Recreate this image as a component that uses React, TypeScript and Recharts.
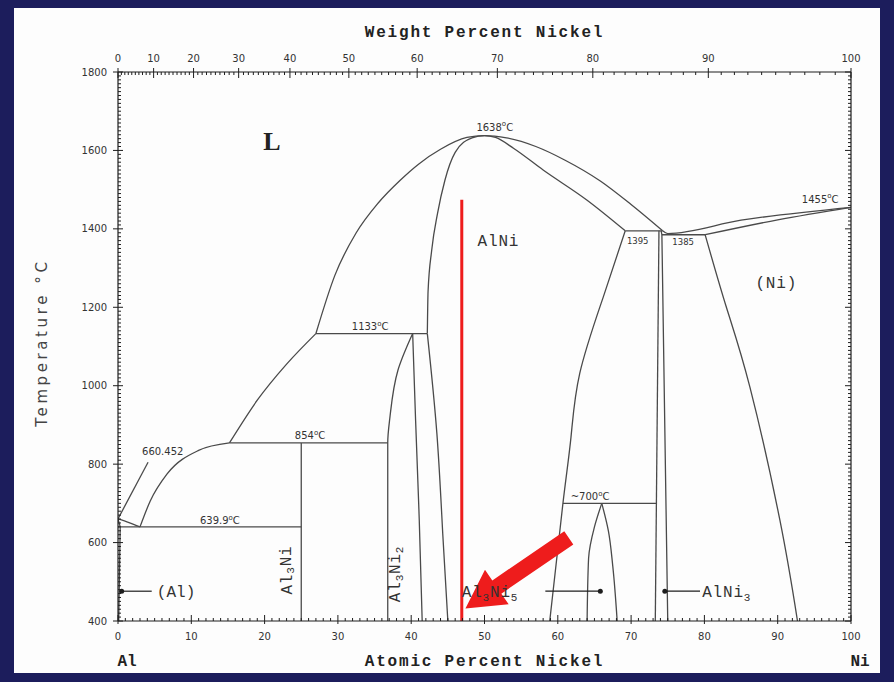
import React from 'react';
import { LineChart, Line, XAxis, YAxis, ReferenceLine, ReferenceDot } from 'recharts';

// Al–Ni binary phase diagram: composition in atomic % Ni, temperature in °C

const NI_MASS = 58.693;
const AL_MASS = 26.982;
const atFromWt = (w: number) => (100 * (w / NI_MASS)) / (w / NI_MASS + (100 - w) / AL_MASS);

// axis ticks
const atomicLabels = [0, 10, 20, 30, 40, 50, 60, 70, 80, 90, 100];
const weightLabels = [0, 10, 20, 30, 40, 50, 60, 70, 80, 90, 100];
const tempLabels = [400, 600, 800, 1000, 1200, 1400, 1600, 1800];
const atomicMinor = Array.from({ length: 101 }, (_, i) => i);
const weightMinor = Array.from({ length: 101 }, (_, i) => i);
const tempMinor = Array.from({ length: 141 }, (_, i) => 400 + i * 10);

// phase boundaries, [at% Ni, °C]
const alLiquidus = [[0, 660.452], [1.5, 651], [3, 639.9]];
const alSolidus = [[0, 660.452], [0.3, 639.9], [0.1, 400]];
const liquidusLow = [[3, 639.9], [4.4, 706], [6.7, 775], [11, 835], [15.2, 854]];
const liquidusMid = [[15.2, 854], [19, 963], [23, 1055], [27, 1133]];
const liquidusHigh = [
  [27, 1133], [29.6, 1282], [32.5, 1390], [35.5, 1466], [38.5, 1524], [41, 1565], [44, 1603],
  [47.6, 1633], [50, 1638], [53, 1632], [57, 1610], [61, 1575], [65.8, 1522], [70, 1462], [74.3, 1395],
];
const alNiSolidus = [
  [42.2, 1133], [42.3, 1240], [42.8, 1346], [43.6, 1440], [44.6, 1524], [46, 1595], [48.3, 1632],
  [50, 1638], [51.5, 1633], [54, 1605], [58, 1550], [64, 1473], [69.2, 1395],
];
const alNiLeft = [[42.2, 1133], [43.5, 879], [44.3, 624], [45, 400]];
const alNiRight = [[69.2, 1395], [66.2, 1226], [63, 1032], [61.8, 869], [60.7, 700], [58.9, 400]];
const al3Ni = [[25, 854], [25, 400]];
const al3Ni2Left = [[40.2, 1133], [38.2, 1040], [37.1, 920], [36.8, 854], [36.8, 400]];
const al3Ni2Right = [[40.2, 1133], [40.6, 912], [41.1, 657], [41.5, 400]];
const al3Ni5Left = [[66, 700], [65, 640], [64.2, 560], [64, 400]];
const al3Ni5Right = [[66, 700], [66.9, 630], [67.5, 540], [68.1, 400]];
const alNi3Left = [[73.8, 1395], [73.3, 400]];
const alNi3Right = [[74.1, 1395], [74.2, 1385], [75, 400]];
const niLiquidus = [[74.3, 1395], [75, 1388], [85, 1422], [100, 1455]];
const niSolidus = [[80.1, 1385], [90, 1423], [100, 1455]];
const niSolvus = [[80.1, 1385], [83, 1200], [86.2, 997], [90.3, 657], [92.7, 400]];

// invariant reactions
const eutectic640 = [[0, 639.9], [25, 639.9]];
const peritectic854 = [[15.2, 854], [36.8, 854]];
const peritectic1133 = [[27, 1133], [42.2, 1133]];
const peritectic1395 = [[69.2, 1395], [74.3, 1395]];
const eutectic1385 = [[74.2, 1385], [80.1, 1385]];
const reaction700 = [[60.7, 700], [73.45, 700]];
const meltLeader = [[0, 660.452], [4.1, 805]];

// phase pointers
const alPointer = [[0.5, 476], [4.6, 476]];
const al3Ni5Pointer = [[58.3, 476], [65.8, 476]];
const alNi3Pointer = [[74.6, 476], [79.4, 476]];

// highlighted composition and arrow
const markedComposition = 46.9;
const markedRange = [400, 1474];
const arrowTail = [61.5, 612];
const arrowTip = [47.4, 432];

const boundaries: [number[][], string][] = [
  [alLiquidus, 'monotoneX'], [alSolidus, 'linear'], [liquidusLow, 'monotoneX'],
  [liquidusMid, 'monotoneX'], [liquidusHigh, 'monotoneX'], [alNiSolidus, 'monotoneX'],
  [alNiLeft, 'natural'], [alNiRight, 'natural'], [al3Ni, 'linear'], [al3Ni2Left, 'monotoneY'],
  [al3Ni2Right, 'natural'], [al3Ni5Left, 'monotoneY'], [al3Ni5Right, 'monotoneY'],
  [alNi3Left, 'linear'], [alNi3Right, 'linear'], [niLiquidus, 'monotoneX'], [niSolidus, 'monotoneX'],
  [niSolvus, 'natural'], [eutectic640, 'linear'], [peritectic854, 'linear'],
  [peritectic1133, 'linear'], [peritectic1395, 'linear'], [eutectic1385, 'linear'],
  [reaction700, 'linear'], [meltLeader, 'linear'],
];
const pointers = [alPointer, al3Ni5Pointer, alNi3Pointer];
const pointerDots = [alPointer[0], al3Ni5Pointer[1], alNi3Pointer[0]];

const toRows = (pts: number[][]) => pts.map(([x, t]) => ({ x, t }));

const INK = '#1e1e1e';
const LINE = '#4a4a4a';
const RED = '#ee1c1c';
const MONO = '"Liberation Mono", "DejaVu Sans Mono", monospace';
const SANS = '"DejaVu Sans", sans-serif';
const SERIF = '"Liberation Serif", serif';

const BottomTick = ({ x, y, payload }: any) => {
  const v = payload.value;
  const major = atomicLabels.includes(v);
  return (
    <g>
      <line x1={x} x2={x} y1={y} y2={y - (major ? 6 : 3)} stroke={INK} />
      {major && <line x1={x} x2={x} y1={y} y2={y + 3} stroke={INK} />}
      {major && (
        <text x={x} y={y + 19} textAnchor="middle" fontFamily={SANS} fontSize={10} fill="#333">
          {v}
        </text>
      )}
    </g>
  );
};

const LeftTick = ({ x, y, payload }: any) => {
  const v = payload.value;
  const major = tempLabels.includes(v);
  return (
    <g>
      <line x1={x} x2={x + (major ? 5 : 3)} y1={y} y2={y} stroke={INK} />
      {major && <line x1={x} x2={x - 5} y1={y} y2={y} stroke={INK} />}
      {major && (
        <text x={x - 11} y={y + 3.5} textAnchor="end" fontFamily={SANS} fontSize={10} fill="#333">
          {v}
        </text>
      )}
    </g>
  );
};

const RightTick = ({ x, y, payload }: any) => {
  const major = tempLabels.includes(payload.value);
  return <line x1={x} x2={x - (major ? 6 : 3)} y1={y} y2={y} stroke={INK} />;
};

const ArrowShape = (p: any) => {
  const { x1, y1, x2, y2 } = p;
  const dx = x2 - x1;
  const dy = y2 - y1;
  const len = Math.hypot(dx, dy) || 1;
  const ux = dx / len;
  const uy = dy / len;
  const nx = -uy;
  const ny = ux;
  const head = 38;
  const halfHead = 21;
  const halfShaft = 8;
  const bx = x2 - ux * head;
  const by = y2 - uy * head;
  const pts = [
    [x1 + nx * halfShaft, y1 + ny * halfShaft],
    [bx + nx * halfShaft, by + ny * halfShaft],
    [bx + nx * halfHead, by + ny * halfHead],
    [x2, y2],
    [bx - nx * halfHead, by - ny * halfHead],
    [bx - nx * halfShaft, by - ny * halfShaft],
    [x1 - nx * halfShaft, y1 - ny * halfShaft],
  ];
  return <polygon points={pts.map((q) => q.join(',')).join(' ')} fill={RED} />;
};

const degC = (v: string, size: number) => (
  <>
    {v}
    <tspan dy={-size * 0.45} fontSize={size * 0.7}>o</tspan>
    <tspan dy={size * 0.45}>C</tspan>
  </>
);

const note = (key: string, at: number[], draw: (cx: number, cy: number) => React.ReactElement) => (
  <ReferenceDot
    key={key}
    x={at[0]}
    y={at[1]}
    xAxisId="at"
    yAxisId="t"
    r={0}
    ifOverflow="visible"
    shape={(p: any) => draw(p.cx, p.cy)}
  />
);

const small = { fontFamily: SANS, fontSize: 10, fill: '#333', textAnchor: 'middle' as const };
const phase = { fontFamily: MONO, fontSize: 16, fill: '#333', letterSpacing: 0.8 };
const SUB = 11;

export default function App() {
  return (
    <div style={{ position: 'absolute', left: 0, top: 0, width: 894, height: 682, background: '#1c1d5c' }}>
      <div style={{ position: 'absolute', left: 14, top: 8, width: 866, height: 665, background: '#fdfdfd' }} />
      <div style={{ position: 'absolute', left: 0, top: 0 }}>
        <LineChart width={894} height={682} margin={{ top: 12, right: 33, bottom: 11, left: 18 }}>
          <XAxis
            xAxisId="at"
            dataKey="x"
            type="number"
            domain={[0, 100]}
            allowDataOverflow
            ticks={atomicMinor}
            interval={0}
            tickSize={0}
            tickMargin={0}
            tickLine={false}
            tick={(p: any) => <BottomTick {...p} />}
            axisLine={{ stroke: INK, strokeWidth: 1.2 }}
            height={50}
          />
          <XAxis
            xAxisId="wt"
            orientation="top"
            type="number"
            domain={[0, 100]}
            allowDataOverflow
            tick={false}
            tickLine={false}
            axisLine={{ stroke: INK, strokeWidth: 1.2 }}
            height={60}
          />
          <YAxis
            yAxisId="t"
            type="number"
            domain={[400, 1800]}
            allowDataOverflow
            ticks={tempMinor}
            interval={0}
            tickSize={0}
            tickMargin={0}
            tickLine={false}
            tick={(p: any) => <LeftTick {...p} />}
            axisLine={{ stroke: INK, strokeWidth: 1.2 }}
            width={100}
          />
          <YAxis
            yAxisId="tr"
            orientation="right"
            type="number"
            domain={[400, 1800]}
            allowDataOverflow
            ticks={tempMinor}
            interval={0}
            tickSize={0}
            tickMargin={0}
            tickLine={false}
            tick={(p: any) => <RightTick {...p} />}
            axisLine={{ stroke: INK, strokeWidth: 1.2 }}
            width={10}
          />

          {boundaries.map(([pts, curve], i) => (
            <Line
              key={`b${i}`}
              data={toRows(pts)}
              dataKey="t"
              xAxisId="at"
              yAxisId="t"
              type={curve as any}
              stroke={LINE}
              strokeWidth={1.3}
              dot={false}
              activeDot={false}
              isAnimationActive={false}
            />
          ))}
          {pointers.map((pts, i) => (
            <Line
              key={`p${i}`}
              data={toRows(pts)}
              dataKey="t"
              xAxisId="at"
              yAxisId="t"
              type="linear"
              stroke={INK}
              strokeWidth={1.2}
              dot={false}
              activeDot={false}
              isAnimationActive={false}
            />
          ))}
          {pointerDots.map((d, i) => (
            <ReferenceDot key={`d${i}`} x={d[0]} y={d[1]} xAxisId="at" yAxisId="t" r={2.5} fill={INK} stroke="none" />
          ))}

          {/* weight-percent scale along the top edge */}
          {weightMinor.map((w) => {
            const major = weightLabels.includes(w);
            return note(`w${w}`, [atFromWt(w), 1800], (x, y) => (
              <g>
                <line x1={x} x2={x} y1={y - (major ? 4 : 0)} y2={y + (major ? 6 : 3)} stroke={INK} />
                {major && (
                  <text x={x} y={y - 10} textAnchor="middle" fontFamily={SANS} fontSize={10} fill="#333">
                    {w}
                  </text>
                )}
              </g>
            ));
          })}

          {note('L', [21, 1600], (x, y) => (
            <text x={x} y={y} textAnchor="middle" fontFamily={SERIF} fontSize={26} fontWeight="bold" fill="#222">L</text>
          ))}
          {note('AlNi', [51.9, 1356], (x, y) => (
            <text x={x} y={y} textAnchor="middle" {...phase}>AlNi</text>
          ))}
          {note('Ni', [89.8, 1250], (x, y) => (
            <text x={x} y={y} textAnchor="middle" {...phase}>(Ni)</text>
          ))}
          {note('Al', [5.3, 460], (x, y) => (
            <text x={x} y={y} textAnchor="start" {...phase} letterSpacing={0}>(Al)</text>
          ))}
          {note('Al3Ni5', [46.9, 460], (x, y) => (
            <text x={x} y={y} textAnchor="start" {...phase}>
              Al<tspan dy={4} fontSize={SUB}>3</tspan><tspan dy={-4}>Ni</tspan><tspan dy={4} fontSize={SUB}>5</tspan>
            </text>
          ))}
          {note('AlNi3', [79.7, 460], (x, y) => (
            <text x={x} y={y} textAnchor="start" {...phase}>
              AlNi<tspan dy={4} fontSize={SUB}>3</tspan>
            </text>
          ))}
          {note('Al3Ni', [23.1, 530], (x, y) => (
            <text x={x} y={y} transform={`rotate(-90 ${x} ${y})`} textAnchor="middle" dominantBaseline="middle" {...phase}>
              Al<tspan dy={4} fontSize={SUB}>3</tspan><tspan dy={-4}>Ni</tspan>
            </text>
          ))}
          {note('Al3Ni2', [37.9, 520], (x, y) => (
            <text x={x} y={y} transform={`rotate(-90 ${x} ${y})`} textAnchor="middle" dominantBaseline="middle" {...phase}>
              Al<tspan dy={4} fontSize={SUB}>3</tspan><tspan dy={-4}>Ni</tspan><tspan dy={4} fontSize={SUB}>2</tspan>
            </text>
          ))}

          {note('t660', [6.1, 823], (x, y) => <text x={x} y={y} {...small}>660.452</text>)}
          {note('t640', [13.9, 647], (x, y) => <text x={x} y={y} {...small}>{degC('639.9', 10)}</text>)}
          {note('t854', [26.2, 864], (x, y) => <text x={x} y={y} {...small}>{degC('854', 10)}</text>)}
          {note('t1133', [34.4, 1142], (x, y) => <text x={x} y={y} {...small}>{degC('1133', 10)}</text>)}
          {note('t1638', [51.4, 1650], (x, y) => <text x={x} y={y} {...small}>{degC('1638', 10)}</text>)}
          {note('t1395', [70.9, 1362], (x, y) => <text x={x} y={y} {...small} fontSize={8.5}>1395</text>)}
          {note('t1385', [77.1, 1360], (x, y) => <text x={x} y={y} {...small} fontSize={8.5}>1385</text>)}
          {note('t1455', [95.8, 1466], (x, y) => <text x={x} y={y} {...small}>{degC('1455', 10)}</text>)}
          {note('t700', [64.4, 708], (x, y) => <text x={x} y={y} {...small}>{'~'}{degC('700', 10)}</text>)}

          {note('titleTop', [50, 1800], (x, y) => (
            <text x={x} y={y - 35} textAnchor="middle" fontFamily={MONO} fontSize={16} fontWeight="bold" letterSpacing={1.8} fill="#222">
              Weight Percent Nickel
            </text>
          ))}
          {note('titleBottom', [50, 400], (x, y) => (
            <text x={x} y={y + 45} textAnchor="middle" fontFamily={MONO} fontSize={16} fontWeight="bold" letterSpacing={1.8} fill="#222">
              Atomic Percent Nickel
            </text>
          ))}
          {note('endAl', [0, 400], (x, y) => (
            <text x={x + 9} y={y + 45} textAnchor="middle" fontFamily={MONO} fontSize={16} fontWeight="bold" fill="#222">Al</text>
          ))}
          {note('endNi', [100, 400], (x, y) => (
            <text x={x + 9} y={y + 45} textAnchor="middle" fontFamily={MONO} fontSize={16} fontWeight="bold" fill="#222">Ni</text>
          ))}
          {note('titleLeft', [0, 1110], (x, y) => (
            <text x={x - 71} y={y} transform={`rotate(-90 ${x - 71} ${y})`} textAnchor="middle" fontFamily={SANS} fontSize={15} letterSpacing={3.6} fill="#444">
              Temperature °C
            </text>
          ))}

          <ReferenceLine
            xAxisId="at"
            yAxisId="t"
            segment={[{ x: markedComposition, y: markedRange[0] }, { x: markedComposition, y: markedRange[1] }]}
            stroke={RED}
            strokeWidth={3}
          />
          <ReferenceLine
            xAxisId="at"
            yAxisId="t"
            segment={[{ x: arrowTail[0], y: arrowTail[1] }, { x: arrowTip[0], y: arrowTip[1] }]}
            shape={(p: any) => <ArrowShape {...p} />}
          />
        </LineChart>
      </div>
    </div>
  );
}
